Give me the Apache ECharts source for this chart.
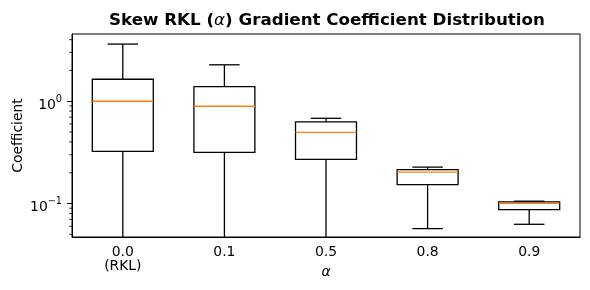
<!DOCTYPE html>
<html><head><meta charset="utf-8">
<script src="https://cdn.jsdelivr.net/npm/echarts@6/dist/echarts.min.js"></script>
<style>html,body{margin:0;padding:0;background:#fff}#c{width:590px;height:290px}</style>
</head><body><div id="c"></div>
<script>
const categories = ['0.0\n(RKL)', '0.1', '0.5', '0.8', '0.9'];
const whiskerLow = [0.001, 0.001, 0.001, 0.0569, 0.0627];
const q1 = [0.324, 0.316, 0.270, 0.153, 0.0873];
const median = [1.0, 0.893, 0.497, 0.203, 0.1006];
const q3 = [1.64, 1.39, 0.627, 0.215, 0.104];
const whiskerHigh = [3.62, 2.27, 0.681, 0.227, 0.1054];
const yMin = 0.0471, yMax = 4.54;
const minorTicks = [0.05, 0.06, 0.07, 0.08, 0.09, 0.2, 0.3, 0.4, 0.5, 0.6, 0.7, 0.8, 0.9, 2, 3, 4];

const FONT = 'DejaVu Sans';
const boxData = categories.map((c, i) => [i, whiskerLow[i], q1[i], median[i], q3[i], whiskerHigh[i]]);
const minorData = minorTicks.map(v => [0, v]);

const chart = echarts.init(document.getElementById('c'), null, {renderer: 'canvas'});
chart.setOption({
  animation: false,
  backgroundColor: '#fff',
  textStyle: {fontFamily: FONT},
  title: {
    text: 'Skew RKL ({i|α}) Gradient Coefficient Distribution',
    left: 104, top: 7,
    textStyle: {fontFamily: FONT, fontSize: 16.7, fontWeight: 'bold', color: '#000',
      rich: {i: {fontFamily: FONT, fontSize: 16.7, fontStyle: 'italic', fontWeight: 'normal', color: '#000'}}}
  },
  grid: {left: 72, right: 10, top: 34, bottom: 53, containLabel: false, outerBoundsMode: 'none',
    show: true, borderColor: '#000', borderWidth: 1, backgroundColor: 'transparent'},
  xAxis: {
    type: 'category', data: categories,
    name: 'α', nameLocation: 'middle', nameGap: 28, nameMoveOverlap: false,
    nameTextStyle: {fontFamily: FONT, fontSize: 14, fontStyle: 'italic', color: '#000'},
    axisLine: {lineStyle: {color: '#000', width: 1}},
    axisTick: {alignWithLabel: true, length: 5, lineStyle: {color: '#000'}},
    axisLabel: {fontFamily: FONT, fontSize: 13.9, color: '#000', margin: 8, lineHeight: 14},
    splitLine: {show: false}
  },
  yAxis: {
    type: 'log', logBase: 10, min: yMin, max: yMax,
    name: 'Coefficient', nameLocation: 'middle', nameGap: 47, nameMoveOverlap: false,
    nameTextStyle: {fontFamily: FONT, fontSize: 13.9, color: '#000'},
    axisLine: {show: true, lineStyle: {color: '#000', width: 1}},
    axisTick: {show: true, length: 5, lineStyle: {color: '#000'}},
    axisLabel: {
      fontFamily: FONT, fontSize: 13.9, color: '#000', margin: 10,
      showMinLabel: false, showMaxLabel: false,
      formatter: v => {
        const e = Math.round(Math.log10(v));
        if (Math.abs(Math.log10(v) - e) > 1e-6) return '';
        return '{b|10}{s|' + String(e).replace('-', '\u2212') + '}';
      },
      rich: {
        b: {fontFamily: FONT, fontSize: 13.9, color: '#000', lineHeight: 22, verticalAlign: 'bottom'},
        s: {fontFamily: FONT, fontSize: 9.7, color: '#000', lineHeight: 22, verticalAlign: 'bottom', padding: [0, 0, 8, 0]}
      }
    },
    splitLine: {show: false}
  },
  series: [
    {
      type: 'custom', name: 'box', data: boxData,
      encode: {x: 0, y: [1, 2, 3, 4, 5]},
      renderItem: (params, api) => {
        const cs = params.coordSys;
        const i = api.value(0);
        const bw = cs.width / categories.length;
        const w = bw * 0.6, cw = bw * 0.3;
        const cx = api.coord([i, api.value(3)])[0];
        const bottom = cs.y + cs.height;
        const raw = k => api.coord([i, api.value(k)])[1];
        const y = k => Math.max(cs.y, Math.min(bottom, raw(k)));
        const yl = y(1), yq1 = y(2), ym = y(3), yq3 = y(4), yh = y(5);
        const st = {stroke: '#000', lineWidth: 1.3, fill: null};
        const children = [
          {type: 'line', shape: {x1: cx, y1: yq1, x2: cx, y2: yl}, style: st},
          {type: 'line', shape: {x1: cx, y1: yq3, x2: cx, y2: yh}, style: st},
          {type: 'rect', shape: {x: cx - w / 2, y: yq3, width: w, height: yq1 - yq3}, style: {stroke: '#000', fill: '#fff', lineWidth: 1.3}},
          {type: 'line', shape: {x1: cx - w / 2, y1: ym, x2: cx + w / 2, y2: ym}, style: {stroke: '#ff7f0e', lineWidth: 1.3}}
        ];
        if (raw(1) <= bottom) children.push({type: 'line', shape: {x1: cx - cw / 2, y1: yl, x2: cx + cw / 2, y2: yl}, style: st});
        if (raw(5) >= cs.y) children.push({type: 'line', shape: {x1: cx - cw / 2, y1: yh, x2: cx + cw / 2, y2: yh}, style: st});
        return {type: 'group', children};
      }
    },
    {
      type: 'custom', name: 'minor', data: minorData, silent: true,
      encode: {x: 0, y: 1},
      renderItem: (params, api) => {
        const cs = params.coordSys;
        const yy = api.coord([0, api.value(1)])[1];
        return {type: 'line', shape: {x1: cs.x - 2.8, y1: yy, x2: cs.x, y2: yy}, style: {stroke: '#000', lineWidth: 0.8}};
      }
    }
  ]
});
</script></body></html>
